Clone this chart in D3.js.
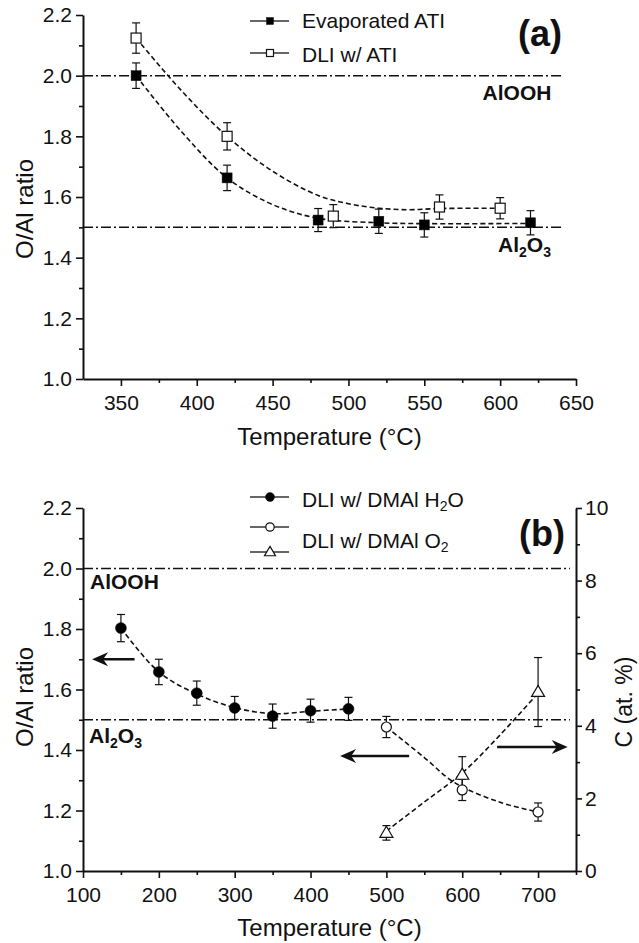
<!DOCTYPE html>
<html><head><meta charset="utf-8">
<script src="https://cdn.jsdelivr.net/npm/d3@7"></script>
<style>
html,body{margin:0;padding:0;background:#fff;}
svg{display:block;font-family:"Liberation Sans",Arial,sans-serif;}
</style></head>
<body><svg id="c" width="639" height="943"></svg>
<script>
// ---------- Panel (a) data ----------
const evapT = [360, 420, 480, 520, 550, 620];
const evapR = [2.00, 1.663, 1.524, 1.52, 1.508, 1.515];
const evapE = [0.042, 0.042, 0.038, 0.04, 0.04, 0.04];
const dliT = [360, 420, 490, 560, 600];
const dliR = [2.124, 1.80, 1.537, 1.567, 1.563];
const dliE = [0.05, 0.045, 0.038, 0.04, 0.035];
// fitted (guide) curves
const evapFitT = [360, 390, 420, 450, 480, 520, 560, 620];
const evapFitR = [2.0, 1.815, 1.663, 1.575, 1.53, 1.515, 1.512, 1.513];
const dliFitT = [360, 390, 420, 450, 480, 500, 520, 540, 560, 600];
const dliFitR = [2.124, 1.95, 1.80, 1.685, 1.605, 1.578, 1.563, 1.558, 1.562, 1.563];
const aXTicks = [350, 400, 450, 500, 550, 600, 650];
const aXMinor = [375, 425, 475, 525, 575, 625];
const yTicks = [1.0, 1.2, 1.4, 1.6, 1.8, 2.0, 2.2];
const yMinor = [1.1, 1.3, 1.5, 1.7, 1.9, 2.1];
const refLevels = [2.0, 1.5];

// ---------- Panel (b) data ----------
const h2oT = [150, 200, 250, 300, 350, 400, 450];
const h2oR = [1.803, 1.658, 1.588, 1.539, 1.512, 1.53, 1.536];
const h2oE = [0.045, 0.042, 0.04, 0.038, 0.04, 0.038, 0.038];
const o2T = [500, 600, 700];
const o2R = [1.476, 1.268, 1.195];
const o2E = [0.035, 0.035, 0.03];
const cT = [500, 600, 700];
const cV = [1.05, 2.65, 4.93];
const cE = [0.2, 0.5, 0.95];
const h2oFitT = [150, 200, 250, 300, 350, 400, 450];
const h2oFitR = [1.803, 1.658, 1.585, 1.54, 1.52, 1.528, 1.536];
const o2FitT = [500, 550, 590, 650, 700];
const o2FitR = [1.476, 1.375, 1.292, 1.227, 1.195];
const cFitT = [500, 550, 600, 650, 700];
const cFitV = [1.1, 1.9, 2.7, 3.75, 4.9];
const bXTicks = [100, 200, 300, 400, 500, 600, 700];
const bXMinor = [150, 250, 350, 450, 550, 650, 750];
const cTicks = [0, 2, 4, 6, 8, 10];
const cMinor = [1, 3, 5, 7, 9];

const svg = d3.select("#c");
const FONT = '"Liberation Sans",Arial,sans-serif';

// scales
const xA = d3.scaleLinear([325, 650], [83, 576]);
const yA = d3.scaleLinear([1.0, 2.2], [379, 15]);
const xB = d3.scaleLinear([100, 750], [83, 576]);
const yB = d3.scaleLinear([1.0, 2.2], [871, 508]);
const cB = d3.scaleLinear([0, 10], [871, 508]);

function styleAxis(g) {
  g.selectAll("path.domain").attr("stroke", "#111").attr("stroke-width", 2);
  g.selectAll(".tick line").attr("stroke", "#111").attr("stroke-width", 1.6);
  g.selectAll(".tick text").attr("font-size", 21).attr("font-family", FONT).attr("fill", "#111");
}
function drawAxes(x, y, xMaj, xMin, fmtX) {
  const gx = svg.append("g").attr("transform", `translate(0,${y.range()[0]})`)
    .call(d3.axisBottom(x).tickValues(xMaj).tickSize(7).tickSizeOuter(0).tickPadding(9).tickFormat(fmtX));
  styleAxis(gx);
  const gxm = svg.append("g").attr("transform", `translate(0,${y.range()[0]})`)
    .call(d3.axisBottom(x).tickValues(xMin).tickSize(4).tickSizeOuter(0).tickFormat(""));
  gxm.select("path.domain").remove(); styleAxis(gxm);
  const gy = svg.append("g").attr("transform", `translate(${x.range()[0]},0)`)
    .call(d3.axisLeft(y).tickValues(yTicks).tickSize(7).tickSizeOuter(0).tickPadding(4).tickFormat(d3.format(".1f")));
  styleAxis(gy);
  const gym = svg.append("g").attr("transform", `translate(${x.range()[0]},0)`)
    .call(d3.axisLeft(y).tickValues(yMinor).tickSize(4).tickSizeOuter(0).tickFormat(""));
  gym.select("path.domain").remove(); styleAxis(gym);
}
drawAxes(xA, yA, aXTicks, aXMinor, d3.format("d"));
drawAxes(xB, yB, bXTicks, bXMinor, d3.format("d"));

// right axis (b)
const gr = svg.append("g").attr("transform", `translate(${xB.range()[1]},0)`)
  .call(d3.axisRight(cB).tickValues(cTicks).tickSize(6).tickSizeOuter(0).tickPadding(3).tickFormat(d3.format("d")));
styleAxis(gr);
const grm = svg.append("g").attr("transform", `translate(${xB.range()[1]},0)`)
  .call(d3.axisRight(cB).tickValues(cMinor).tickSize(4).tickSizeOuter(0).tickFormat(""));
grm.select("path.domain").remove(); styleAxis(grm);

// axis titles
function text(x, y, s, size, opts = {}) {
  const t = svg.append("text").attr("x", x).attr("y", y).text(s)
    .attr("font-size", size).attr("font-family", FONT).attr("fill", "#111")
    .attr("text-anchor", opts.anchor || "start").attr("font-weight", opts.bold ? "bold" : "normal");
  if (opts.rot) t.attr("transform", `rotate(-90,${x},${y})`);
  return t;
}
text((83 + 576) / 2, 445, "Temperature (°C)", 24, {anchor: "middle"});
text((83 + 576) / 2, 936, "Temperature (°C)", 24, {anchor: "middle"});
text(33, 209, "O/Al ratio", 24, {anchor: "middle", rot: true});
text(33, 697, "O/Al ratio", 24, {anchor: "middle", rot: true});
text(632, 702, "C (at. %)", 23, {anchor: "middle", rot: true});

// reference dash-dot lines
const refEndA = 641, refEndB = 742;
refLevels.forEach(v => {
  svg.append("line").attr("x1", xA(325)).attr("x2", xA(refEndA)).attr("y1", yA(v)).attr("y2", yA(v))
    .attr("stroke", "#111").attr("stroke-width", 1.5).attr("stroke-dasharray", "10,3,2,3");
  svg.append("line").attr("x1", xB(100)).attr("x2", xB(refEndB)).attr("y1", yB(v)).attr("y2", yB(v))
    .attr("stroke", "#111").attr("stroke-width", 1.5).attr("stroke-dasharray", "10,3,2,3");
});

// fit curves
function fit(xs, ys, x, y) {
  const pts = xs.map((t, i) => [x(t), y(ys[i])]);
  svg.append("path").attr("d", d3.line().curve(d3.curveCatmullRom)(pts))
    .attr("fill", "none").attr("stroke", "#111").attr("stroke-width", 1.6).attr("stroke-dasharray", "5,3");
}
fit(evapFitT, evapFitR, xA, yA);
fit(dliFitT, dliFitR, xA, yA);
fit(h2oFitT, h2oFitR, xB, yB);
fit(o2FitT, o2FitR, xB, yB);
fit(cFitT, cFitV, xB, cB);

// error bars
function errs(xs, ys, es, x, y) {
  xs.forEach((t, i) => {
    const px = x(t), y1 = y(ys[i] + es[i]), y2 = y(ys[i] - es[i]);
    svg.append("line").attr("x1", px).attr("x2", px).attr("y1", y1).attr("y2", y2).attr("stroke", "#111").attr("stroke-width", 1.2);
    [y1, y2].forEach(yy => svg.append("line").attr("x1", px - 4).attr("x2", px + 4).attr("y1", yy).attr("y2", yy)
      .attr("stroke", "#111").attr("stroke-width", 1.2));
  });
}
errs(evapT, evapR, evapE, xA, yA);
errs(dliT, dliR, dliE, xA, yA);
errs(h2oT, h2oR, h2oE, xB, yB);
errs(o2T, o2R, o2E, xB, yB);
errs(cT, cV, cE, xB, cB);

// markers
function square(px, py, s, filled) {
  svg.append("rect").attr("x", px - s / 2).attr("y", py - s / 2).attr("width", s).attr("height", s)
    .attr("fill", filled ? "#000" : "#fff").attr("stroke", "#111").attr("stroke-width", filled ? 0.5 : 1.2);
}
function circle(px, py, r, filled) {
  svg.append("circle").attr("cx", px).attr("cy", py).attr("r", r)
    .attr("fill", filled ? "#000" : "#fff").attr("stroke", "#111").attr("stroke-width", filled ? 0.5 : 1.2);
}
function tri(px, py, w) {
  const h = w * 0.85;
  svg.append("path").attr("d", `M${px},${py - h * 0.6}L${px + w / 2},${py + h * 0.4}L${px - w / 2},${py + h * 0.4}Z`)
    .attr("fill", "#fff").attr("stroke", "#111").attr("stroke-width", 1.2);
}
evapT.forEach((t, i) => square(xA(t), yA(evapR[i]), 10, true));
dliT.forEach((t, i) => square(xA(t), yA(dliR[i]), 10, false));
h2oT.forEach((t, i) => circle(xB(t), yB(h2oR[i]), 5.5, true));
o2T.forEach((t, i) => circle(xB(t), yB(o2R[i]), 5, false));
cT.forEach((t, i) => tri(xB(t), cB(cV[i]), 13));

// legends
function legLine(y) {
  svg.append("line").attr("x1", 250).attr("x2", 289).attr("y1", y).attr("y2", y).attr("stroke", "#333").attr("stroke-width", 1.3);
}
legLine(21); square(270, 21, 7, true);
legLine(53); square(270, 53, 7, false);
text(302, 28, "Evaporated ATI", 21);
text(302, 62, "DLI w/ ATI", 21);

legLine(497); circle(270, 497, 4.5, true);
legLine(527); circle(270, 527, 4.2, false);
legLine(552); tri(270, 552, 11);
const t1 = text(302, 507, "DLI w/ DMAl H", 21);
t1.append("tspan").text("2").attr("font-size", 14).attr("dy", 4);
t1.append("tspan").text("O").attr("dy", -4);
const t2 = text(302, 548, "DLI w/ DMAl O", 21);
t2.append("tspan").text("2").attr("font-size", 14).attr("dy", 4);

// labels
text(540, 46, "(a)", 36, {anchor: "middle", bold: true});
text(542, 546, "(b)", 36, {anchor: "middle", bold: true});
text(517, 100, "AlOOH", 21, {anchor: "middle", bold: true});
text(90, 589, "AlOOH", 21, {bold: true});
function al2o3(x, y) {
  const t = text(x, y, "Al", 21, {bold: true});
  t.append("tspan").text("2").attr("font-size", 14).attr("dy", 5);
  t.append("tspan").text("O").attr("dy", -5);
  t.append("tspan").text("3").attr("font-size", 14).attr("dy", 5);
}
al2o3(498, 252);
al2o3(89, 743);

// arrows (b)
const arrows = [
  {from: 168, to: 112, v: 1.70},
  {from: 530, to: 439, v: 1.38},
  {from: 646, to: 739, v: 1.41}
];
arrows.forEach(a => {
  const x1 = xB(a.from), x2 = xB(a.to), py = yB(a.v), d = x2 > x1 ? 1 : -1;
  svg.append("line").attr("x1", x1).attr("x2", x2 - d * 8).attr("y1", py).attr("y2", py)
    .attr("stroke", "#111").attr("stroke-width", 2.4);
  svg.append("path").attr("d", `M${x2},${py}L${x2 - d * 16},${py - 7}L${x2 - d * 11},${py}L${x2 - d * 16},${py + 7}Z`)
    .attr("fill", "#111");
});
</script></body></html>
